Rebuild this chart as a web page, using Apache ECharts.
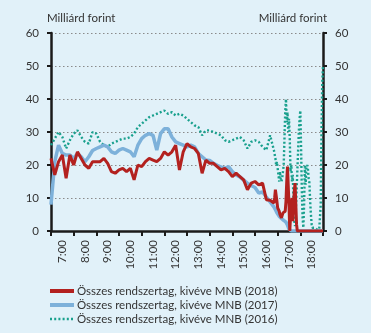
<!DOCTYPE html>
<html><head><meta charset="utf-8">
<script src="https://cdn.jsdelivr.net/npm/echarts@6/dist/echarts.min.js"></script>
<style>html,body{margin:0;padding:0;background:#e1f1f9;}#c{width:371px;height:333px;}</style>
</head><body><div id="c"></div>
<script>
// Hour labels (category bands)
const hourLabels = ['7:00','8:00','9:00','10:00','11:00','12:00','13:00','14:00','15:00','16:00','17:00','18:00'];
const yTicks = [0,10,20,30,40,50,60];
// Time stamps in minutes after midnight (6:30 = 390 ... 18:30 = 1110)
const timesMain = [390,400,410,420,430,440,450,460,470,480,490,500,510,520,530,540,550,560,570,580,590,600,610,620,630,640,650,660,670,680,690,700,710,720,730,740,750,760,770,780,790,800,810,820,830,840,850,860,870,880,890,900,910,920,930,940,950,960,970,980];
const timesTail = [982,984,986,988,990,992,994,996,998,1000,1002,1004,1006,1008,1010,1012,1014,1016,1018,1020,1022,1024,1026,1028,1030,1032,1034,1036,1038,1040,1042,1044,1046,1048,1050,1052,1054,1056,1058,1060,1062,1064,1066,1068,1070,1072,1074,1076,1078,1080,1082,1084,1086,1088,1090,1092,1094,1096,1098,1100,1102,1104,1106,1108,1110];

const s2018Main = [22,17,21,23,16,23,20,24,22,20,19,21,21,21,22,20.5,18,17.5,18.5,19,18,19,15.5,20,19.5,21,22,21.5,21,22,24,23,24,26,18.5,24,26.5,25.5,25,23.5,17.5,21.5,20.5,20.5,19.5,18.5,19,18,16.5,17.5,16.5,15.5,12.5,14.5,15,14,14.5,9.5,9.3,8.5];
const s2018Tail = [10,12.5,12,9,7,7.5,6,5,4.5,4,4.5,5.5,6,5,6,9,15,19.5,19,8,0,0,8,10,3,8,12,14.5,14,2,0,0,0,0,0,0,0,0,0,0,0,0,0,0,0,0,0,0,0,0,0,0,0,0,0,0,0,0,0,0,0,0,0,0,0];

const s2017Main = [8,21,26,23.5,23,23,22,23.5,22.5,21,22.5,24.4,25,25.5,26,25.5,24,23.5,24.5,25,24.5,24,22.5,26,28,29,29.5,29,24.5,29.5,31,31,28.5,27,26.5,26,25.5,26,25.5,23.5,22.5,21.5,21.4,20.5,19.9,19.4,19,19.5,18,17,16.4,15.4,14.5,13.8,13.2,11.5,11.8,10.3,8.8,7.3];
const s2017Tail = [7,6.5,6,5.5,5,5,4.5,4,4,3.8,3.5,3.2,3.2,3,2.8,2.7,2.3,1.8,1.2,0.6,0,0,0,0,0,0,0,0,0,0,0,0,0,0,0,0,0,0,0,0,0,0,0,0,0,0,0,0,0,0,0,0,0,0,0,0,0,0,0,0,0,0,0,0,0];

const s2016Main = [26,28,30,28.5,25,27.5,29.5,30.5,28.5,27,26.5,30,29.5,27,26,25.5,26.5,27,27.5,28,28,28.5,29.5,31.5,32.5,33.5,34.5,35,35.5,36,36.5,35.5,36,35,35.5,35,34,33,32,31.5,29,30.5,30.5,30,29.5,29,27.5,27,27.5,28,28.5,27.5,25,27,27.5,27,25.5,24.5,29,24.5];
const s2016Tail = [24,22,20,21,19,17,15,18,16,15,16,16,20,28,36,40,33,36,30,34,28,18,20,15,17,9,3,1.5,6,12,18,24,30,34,36.5,25,12,4,1,8,20,14,19,20,19,16,14.5,9,5,2,1,1,0.5,1,1,0.5,0.5,1,1,0.5,1,8,30,45,50];

const times = timesMain.concat(timesTail);
function pairs(a, b) { const v = a.concat(b); return times.map((t, i) => [t, v[i]]); }

const names = ['Összes rendszertag, kivéve MNB (2018)','Összes rendszertag, kivéve MNB (2017)','Összes rendszertag, kivéve MNB (2016)'];
const FONT = 'Lato';
const TXT = '#333333';
const C18 = '#b3211f', C17 = '#7db1da', C16 = '#18a08d';

const chart = echarts.init(document.getElementById('c'), null, {renderer: 'canvas'});
const yCommon = {
  type: 'value', min: 0, max: 60, interval: 10,
  axisLine: {show: true, lineStyle: {color: '#1a1a1a', width: 2.5}},
  axisTick: {show: true, length: 4, lineStyle: {color: '#1a1a1a', width: 2}},
  axisLabel: {color: TXT, fontSize: 11.5, fontFamily: FONT, margin: 12, formatter: v => yTicks.includes(v) ? String(v) : ''},
  name: 'Milliárd forint', nameLocation: 'end', nameGap: 9,
};
chart.setOption({
  backgroundColor: '#e1f1f9',
  animation: false,
  textStyle: {fontFamily: FONT},
  grid: {left: 51, right: 48, top: 33, bottom: 102, containLabel: false},
  legend: {
    orient: 'vertical', left: 48, top: 285, itemWidth: 24, itemHeight: 11, itemGap: 2, padding: 0, height: 60,
    data: [
      {name: names[0], lineStyle: {width: 4}},
      {name: names[1], lineStyle: {width: 4}},
      {name: names[2], lineStyle: {width: 2.5}}
    ],
    itemStyle: {opacity: 0},
    textStyle: {color: TXT, fontSize: 11.5, fontFamily: FONT, padding: [0,0,0,-2]}
  },
  xAxis: [{
    type: 'category', data: hourLabels, boundaryGap: true, position: 'bottom',
    axisLine: {lineStyle: {color: '#1a1a1a', width: 2.5}},
    axisTick: {show: true, length: 5, lineStyle: {color: '#1a1a1a', width: 2}},
    axisLabel: {rotate: 90, color: TXT, fontSize: 11.5, fontFamily: FONT, margin: 9},
    splitLine: {show: false}
  }, {
    type: 'value', min: 390, max: 1110, show: false
  }],
  yAxis: [Object.assign({}, yCommon, {
    position: 'left',
    nameTextStyle: {color: TXT, fontSize: 11.5, fontFamily: FONT, align: 'left', padding: [0,0,0,-4]},
    splitLine: {show: true, lineStyle: {color: '#8a8a8a', width: 1, type: [1.5, 2.5]}}
  }), Object.assign({}, yCommon, {
    position: 'right',
    nameTextStyle: {color: TXT, fontSize: 11.5, fontFamily: FONT, align: 'right', padding: [0,-4,0,0]},
    splitLine: {show: false}
  })],
  series: [{
    name: names[2], type: 'line', xAxisIndex: 1, yAxisIndex: 0, showSymbol: false, symbol: 'none',
    data: pairs(s2016Main, s2016Tail),
    lineStyle: {color: C16, width: 2.4, type: [2, 2.2]}, itemStyle: {color: C16}, z: 2
  }, {
    name: names[1], type: 'line', xAxisIndex: 1, yAxisIndex: 0, showSymbol: false, symbol: 'none',
    data: pairs(s2017Main, s2017Tail),
    lineStyle: {color: C17, width: 3.5}, itemStyle: {color: C17}, z: 3
  }, {
    name: names[0], type: 'line', xAxisIndex: 1, yAxisIndex: 0, showSymbol: false, symbol: 'none',
    data: pairs(s2018Main, s2018Tail),
    lineStyle: {color: C18, width: 3}, itemStyle: {color: C18}, z: 4
  }]
});
</script></body></html>
